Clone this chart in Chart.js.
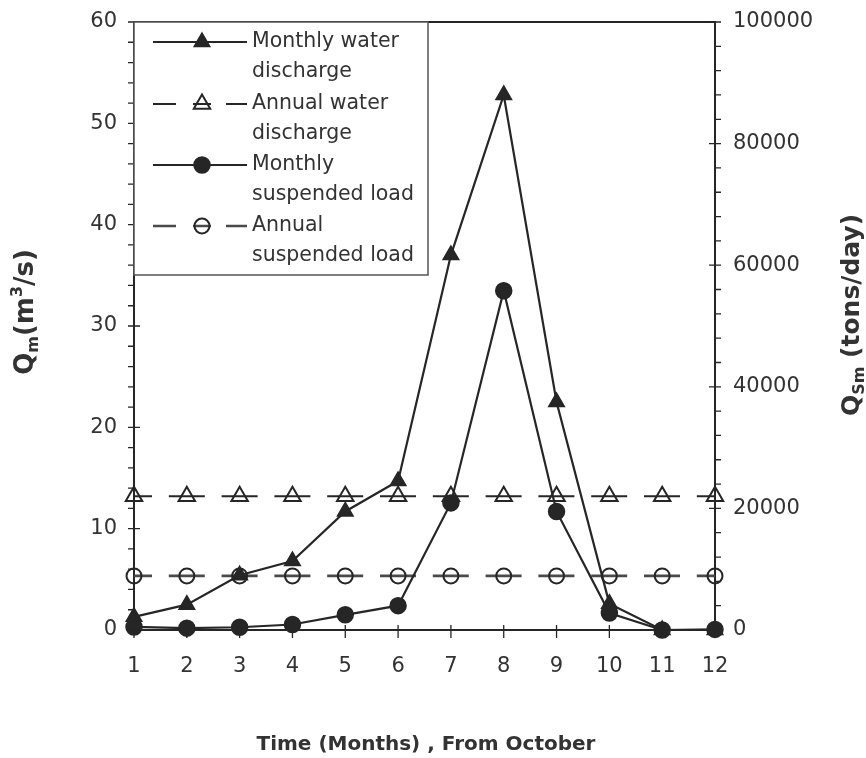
<!DOCTYPE html>
<html>
<head>
<meta charset="utf-8">
<script src="https://cdn.jsdelivr.net/npm/chart.js@4.4.0/dist/chart.umd.min.js"></script>
<style>
  html, body { margin: 0; padding: 0; background: #fff; }
  #wrap { width: 866px; height: 758px; }
</style>
</head>
<body>
<div id="wrap"><canvas id="chart" width="866" height="758"></canvas></div>
<script>
// months counted from October
const months = ['1', '2', '3', '4', '5', '6', '7', '8', '9', '10', '11', '12'];

// water discharge, m3/s (left axis)
const monthlyDischarge = [1.3, 2.5, 5.4, 6.8, 11.7, 14.7, 37.0, 52.8, 22.5, 2.6, 0, 0];
const annualDischarge  = [13.2, 13.2, 13.2, 13.2, 13.2, 13.2, 13.2, 13.2, 13.2, 13.2, 13.2, 13.2];

// suspended load, tons/day (right axis)
const monthlyLoad = [500, 300, 450, 900, 2500, 4000, 20900, 55800, 19500, 2800, 0, 100];
const annualLoad  = [8900, 8900, 8900, 8900, 8900, 8900, 8900, 8900, 8900, 8900, 8900, 8900];

const legendLabels = [
  ['Monthly water', 'discharge'],
  ['Annual water', 'discharge'],
  ['Monthly', 'suspended load'],
  ['Annual', 'suspended load']
];
const xTitle = 'Time (Months) , From October';

const INK = '#262626';
const GREY = '#4a4a4a';
const TEXT = '#333';
const tickFont = { family: 'DejaVu Sans', size: 21 };

function drawMarker(ctx, style, x, y, r, fill, stroke, lw) {
  ctx.save();
  ctx.beginPath();
  if (style === 'triangle') {
    let a = 0;
    ctx.moveTo(x + Math.sin(a) * r, y - Math.cos(a) * r);
    a += Math.PI * 2 / 3;
    ctx.lineTo(x + Math.sin(a) * r, y - Math.cos(a) * r);
    a += Math.PI * 2 / 3;
    ctx.lineTo(x + Math.sin(a) * r, y - Math.cos(a) * r);
    ctx.closePath();
  } else {
    ctx.arc(x, y, r, 0, Math.PI * 2);
  }
  if (fill) { ctx.fillStyle = fill; ctx.fill(); }
  ctx.lineWidth = lw;
  ctx.strokeStyle = stroke;
  ctx.stroke();
  ctx.restore();
}

// text made of runs with sub/superscripts, centred on (cx, cy)
function drawRich(ctx, runs, cx, cy, angle) {
  ctx.save();
  ctx.translate(cx, cy);
  ctx.rotate(angle);
  let total = 0;
  runs.forEach(r => { ctx.font = r.font; r.w = ctx.measureText(r.t).width; total += r.w; });
  let x = -total / 2;
  ctx.fillStyle = TEXT;
  ctx.textBaseline = 'alphabetic';
  ctx.textAlign = 'left';
  runs.forEach(r => {
    ctx.font = r.font;
    ctx.fillText(r.t, x, 9 + (r.dy || 0));
    x += r.w;
  });
  ctx.restore();
}

// vertical axes: no extra room for the end labels, the layout padding sets the top
function fitVertical(width) {
  return s => {
    s.width = width;
    s.paddingTop = 0;
    s.paddingBottom = 0;
  };
}

const decorations = {
  id: 'decorations',
  afterDatasetsDraw(chart) {
    const ctx = chart.ctx;
    const area = chart.chartArea;
    const yL = chart.scales.y, yR = chart.scales.y1, xs = chart.scales.x;

    ctx.save();
    ctx.strokeStyle = INK;
    ctx.lineWidth = 2;
    // top edge of the frame
    ctx.beginPath();
    ctx.moveTo(area.left - 1, area.top);
    ctx.lineTo(area.right + 1, area.top);
    ctx.stroke();

    // tick marks
    ctx.lineWidth = 1.3;
    ctx.beginPath();
    for (let v = 0; v <= 60; v += 2) {
      const py = yL.getPixelForValue(v);
      const major = v % 10 === 0;
      ctx.moveTo(area.left - 6, py);
      ctx.lineTo(area.left + (major ? 6 : 0), py);
    }
    for (let v = 0; v <= 100000; v += 4000) {
      const py = yR.getPixelForValue(v);
      const major = v % 20000 === 0;
      ctx.moveTo(area.right - (major ? 6 : 0), py);
      ctx.lineTo(area.right + 6, py);
    }
    months.forEach((m, i) => {
      const px = xs.getPixelForValue(i);
      ctx.moveTo(px, area.bottom - 5);
      ctx.lineTo(px, area.bottom + 8);
    });
    ctx.stroke();

    // legend box
    const box = { l: area.left, t: area.top, r: 428, b: 275 };
    ctx.fillStyle = '#fff';
    ctx.fillRect(box.l, box.t, box.r - box.l, box.b - box.t);
    ctx.strokeStyle = '#555';
    ctx.lineWidth = 1.5;
    ctx.strokeRect(box.l, box.t, box.r - box.l, box.b - box.t);

    const x0 = 153, x1 = 247, mx = 202, tx = 252;
    const rowY = [42, 104, 165, 226];
    ctx.font = '20.5px "DejaVu Sans"';
    ctx.textBaseline = 'middle';
    ctx.textAlign = 'left';
    chart.data.datasets.forEach((ds, i) => {
      const y = rowY[i];
      ctx.strokeStyle = ds.borderColor;
      ctx.lineWidth = ds.borderWidth;
      ctx.beginPath();
      if (ds.borderDash && ds.borderDash.length) {
        ctx.moveTo(x0, y); ctx.lineTo(x0 + 23, y);
        ctx.moveTo(mx - 9, y); ctx.lineTo(mx + 9, y);
        ctx.moveTo(x1 - 21, y); ctx.lineTo(x1, y);
      } else {
        ctx.moveTo(x0, y); ctx.lineTo(x1, y);
      }
      ctx.stroke();
      drawMarker(ctx, ds.pointStyle, mx, y, ds.pointRadius,
        ds.pointBackgroundColor, ds.pointBorderColor, ds.pointBorderWidth);
      ctx.fillStyle = TEXT;
      legendLabels[i].forEach((line, k) => ctx.fillText(line, tx, y + k * 30));
    });
    ctx.restore();
  },
  afterDraw(chart) {
    const ctx = chart.ctx;
    const big = 'bold 26px "DejaVu Sans"';
    const small = 'bold 16px "DejaVu Sans"';

    drawRich(ctx, [
      { t: 'Q', font: big },
      { t: 'm', font: small, dy: 5 },
      { t: '(m', font: big },
      { t: '3', font: small, dy: -11 },
      { t: '/s)', font: big }
    ], 24, 312, -Math.PI / 2);

    const bigR = 'bold 25px "DejaVu Sans"';
    drawRich(ctx, [
      { t: 'Q', font: bigR },
      { t: 'Sm', font: small, dy: 5 },
      { t: ' (tons/day)', font: bigR }
    ], 850, 315, -Math.PI / 2);

    ctx.save();
    ctx.font = 'bold 20px "DejaVu Sans"';
    ctx.fillStyle = TEXT;
    ctx.textAlign = 'center';
    ctx.textBaseline = 'middle';
    ctx.fillText(xTitle, 426, 745);
    ctx.restore();
  }
};

new Chart(document.getElementById('chart'), {
  type: 'line',
  data: {
    labels: months,
    datasets: [
      {
        label: 'Monthly water discharge',
        data: monthlyDischarge,
        yAxisID: 'y',
        borderColor: INK,
        borderWidth: 2.2,
        pointStyle: 'triangle',
        pointRadius: 9,
        pointBackgroundColor: INK,
        pointBorderColor: INK,
        pointBorderWidth: 1.5,
        clip: false
      },
      {
        label: 'Annual water discharge',
        data: annualDischarge,
        yAxisID: 'y',
        borderColor: INK,
        borderWidth: 2,
        borderDash: [36, 16.8],
        borderDashOffset: 18,
        pointStyle: 'triangle',
        pointRadius: 9.5,
        pointBackgroundColor: 'rgba(255,255,255,0)',
        pointBorderColor: INK,
        pointBorderWidth: 2,
        clip: false
      },
      {
        label: 'Monthly suspended load',
        data: monthlyLoad,
        yAxisID: 'y1',
        borderColor: INK,
        borderWidth: 2.2,
        pointStyle: 'circle',
        pointRadius: 8,
        pointBackgroundColor: INK,
        pointBorderColor: INK,
        pointBorderWidth: 1.5,
        clip: false
      },
      {
        label: 'Annual suspended load',
        data: annualLoad,
        yAxisID: 'y1',
        borderColor: GREY,
        borderWidth: 2.6,
        borderDash: [36, 16.8],
        borderDashOffset: 18,
        pointStyle: 'circle',
        pointRadius: 7.5,
        pointBackgroundColor: 'rgba(255,255,255,0)',
        pointBorderColor: INK,
        pointBorderWidth: 2,
        clip: false
      }
    ]
  },
  options: {
    responsive: false,
    animation: false,
    layout: { padding: { top: 22, left: 0, right: 0, bottom: 0 } },
    plugins: { legend: { display: false }, tooltip: { enabled: false } },
    scales: {
      x: {
        type: 'category',
        offset: false,
        grid: { drawOnChartArea: false, drawTicks: false },
        border: { display: true, color: INK, width: 2 },
        ticks: { font: tickFont, color: TEXT, padding: 24, maxRotation: 0 },
        afterFit(s) { s.height = 128; }
      },
      y: {
        position: 'left',
        min: 0, max: 60,
        grid: { drawOnChartArea: false, drawTicks: false },
        border: { display: true, color: INK, width: 2 },
        ticks: { stepSize: 10, font: tickFont, color: TEXT, padding: 17 },
        afterFit: fitVertical(134)
      },
      y1: {
        position: 'right',
        min: 0, max: 100000,
        grid: { drawOnChartArea: false, drawTicks: false },
        border: { display: true, color: INK, width: 2 },
        ticks: {
          stepSize: 20000, font: tickFont, color: TEXT, padding: 18,
          callback: v => String(v)
        },
        afterFit: fitVertical(151)
      }
    }
  },
  plugins: [decorations]
});
</script>
</body>
</html>
